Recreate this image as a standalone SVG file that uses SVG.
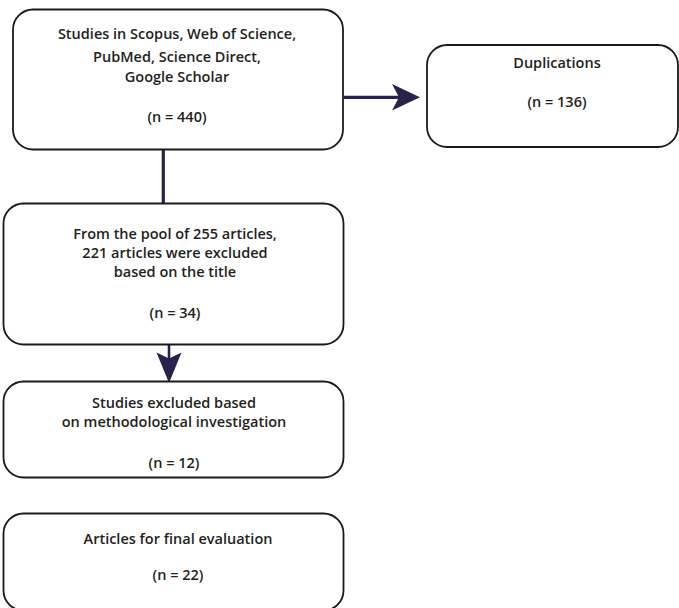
<svg xmlns="http://www.w3.org/2000/svg" width="679" height="608" viewBox="0 0 679 608">
<style>
.box{fill:#fff;stroke:#1a1a1a;stroke-width:1.8}
.t{font-family:"Open Sans","Liberation Sans",sans-serif;font-weight:600;font-size:14.5px;fill:#231f20;text-anchor:middle}
.c{stroke:#27234a;fill:none}
.h{fill:#27234a}
</style>
<rect width="679" height="608" fill="#fff"/>
<g id="connectors">
<line class="c" x1="163.3" y1="150" x2="163.3" y2="204" stroke-width="3.2"/>
<line class="c" x1="344" y1="97.3" x2="400" y2="97.3" stroke-width="3.2"/>
<path class="h" d="M420,97.3 L392,84 L399,97.3 L392,110.5 Z"/>
<line class="c" x1="169" y1="345" x2="169" y2="362" stroke-width="2.6"/>
<path class="h" d="M169,383 L156.5,352.5 L169,358.5 L181.5,352.5 Z"/>
</g>
<g id="n1">
<rect class="box" x="13" y="9.5" width="330" height="140" rx="20"/>
<text class="t" x="177" y="39">Studies in Scopus, Web of Science,</text>
<text class="t" x="177" y="62">PubMed, Science Direct,</text>
<text class="t" x="177" y="82">Google Scholar</text>
<text class="t" x="177" y="122">(n = 440)</text>
</g>
<g id="n2">
<rect class="box" x="427" y="45" width="251" height="102" rx="20"/>
<text class="t" x="557" y="68">Duplications</text>
<text class="t" x="557" y="107">(n = 136)</text>
</g>
<g id="n3">
<rect class="box" x="3.5" y="203.5" width="340" height="141" rx="20"/>
<text class="t" x="175" y="239">From the pool of 255 articles,</text>
<text class="t" x="175" y="258">221 articles were excluded</text>
<text class="t" x="175" y="277">based on the title</text>
<text class="t" x="175" y="318">(n = 34)</text>
</g>
<g id="n4">
<rect class="box" x="3.5" y="381.5" width="340" height="96" rx="20"/>
<text class="t" x="174" y="408">Studies excluded based</text>
<text class="t" x="174" y="427">on methodological investigation</text>
<text class="t" x="174" y="468">(n = 12)</text>
</g>
<g id="n5">
<rect class="box" x="3.5" y="513.5" width="340" height="97" rx="20"/>
<text class="t" x="178" y="544">Articles for final evaluation</text>
<text class="t" x="178" y="580">(n = 22)</text>
</g>
</svg>
